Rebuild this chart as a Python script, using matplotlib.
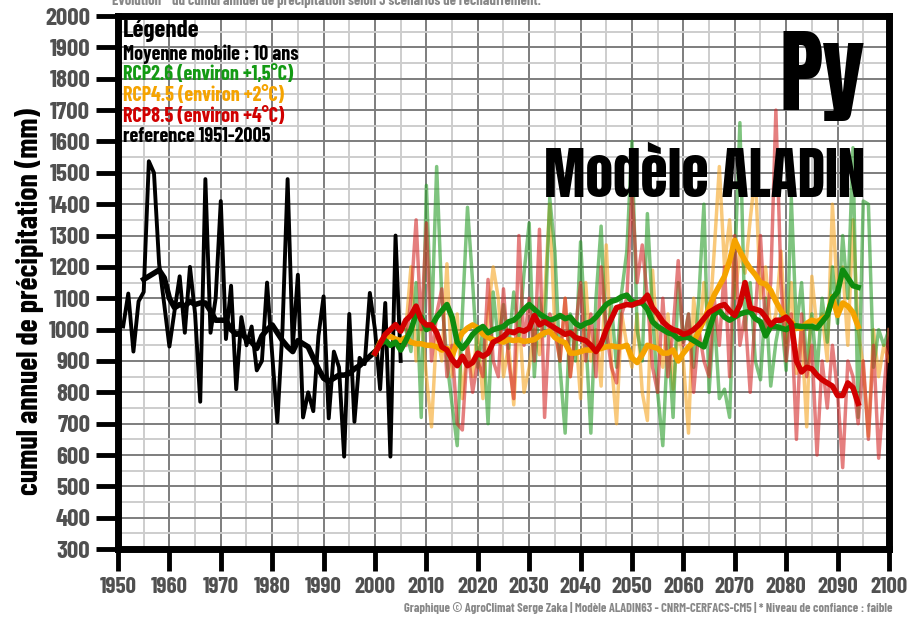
import matplotlib
matplotlib.use("Agg")
import matplotlib.pyplot as plt
import numpy as np
from matplotlib.ticker import MultipleLocator

plt.rcParams['font.family'] = ['Barlow Condensed', 'DejaVu Sans']
plt.rcParams['font.weight'] = 'bold'
BIG = ['Anton', 'DejaVu Sans']

# reference 1951-2005 (annual) and its 10-year moving average
ref_years = np.arange(1951, 2006)
ref_values = [1010, 1115, 930, 1090, 1120, 1537, 1500, 1210, 1080, 946,
              1060, 1170, 990, 1200, 1050, 770, 1480, 990, 1100, 1410,
              970, 1140, 810, 1040, 950, 1010, 870, 900, 1150, 920,
              705, 1000, 1480, 945, 1175, 720, 800, 740, 980, 1106,
              717, 930, 880, 595, 1050, 706, 910, 890, 1117, 1000,
              810, 1085, 595, 1300, 900]
ref_ma_years = np.arange(1955, 2001)
ref_ma = [1160, 1170, 1180, 1190, 1165, 1100, 1070, 1080, 1075, 1090,
          1080, 1085, 1085, 1060, 1030, 1030, 1030, 1000, 985, 990,
          970, 960, 940, 980, 1000, 1015, 990, 965, 945, 930,
          965, 955, 945, 910, 875, 845, 835, 845, 855, 855,
          860, 875, 885, 900, 915, 930]

# scenarios, annual values 2006-2100
scen_years = np.arange(2006, 2101)
rcp26 = [1000, 930, 1150, 720, 1460,
         1000, 1520, 1100, 900, 760, 630, 1050, 1390, 1150, 880,
         1000, 700, 1120, 960, 1080, 940, 1120, 980, 1180, 1340,
         850, 1100, 980, 1420, 1250, 880, 670, 1050, 900, 1280,
         980, 670, 1100, 1330, 950, 1080, 880, 1120, 1250, 1600,
         1000, 900, 1370, 1050, 800, 630, 980, 720, 1150, 960,
         1050, 880, 1100, 1400, 800, 1050, 780, 810, 720, 1200,
         1660, 1000, 1150, 900, 840, 1100, 820, 960, 1050, 870,
         1420, 1000, 1150, 880, 1050, 860, 1100, 960, 1200, 1020,
         1300, 1100, 1580, 720, 1410, 1400, 880, 1000, 950, 1000]
rcp45 = [1000, 1200, 900, 1050, 850,
         690, 1000, 900, 1210, 850, 1050, 780, 950, 850, 1000,
         780, 1050, 1200, 1100, 850, 950, 760, 1050, 800, 880,
         1000, 920, 1100, 1400, 1000, 900, 1100, 850, 1000, 780,
         1150, 900, 1000, 820, 1270, 900, 700, 1050, 950, 880,
         1050, 800, 710, 1190, 950, 880, 1050, 810, 1000, 900,
         670, 1100, 950, 1150, 1000, 1250, 1520, 1200, 1350, 1100,
         1250, 1180, 1350, 1500, 1100, 1200, 1000, 1050, 1250, 950,
         1150, 860, 1000, 690, 1170, 1000, 1050, 900, 1400, 1100,
         1200, 950, 1350, 1000, 880, 660, 1000, 850, 950, 900]
rcp85 = [950, 1100, 1350, 1000, 1340,
         900, 1050, 1130, 850, 950, 700, 680, 950, 800, 900,
         850, 1160, 900, 850, 1130, 900, 780, 1300, 950, 1100,
         900, 1320, 720, 1050, 1000, 900, 1100, 850, 1000, 1150,
         900, 1050, 850, 1200, 1000, 880, 830, 1050, 1100, 1450,
         1150, 1270, 1100, 880, 800, 1100, 850, 1000, 1220, 950,
         1050, 800, 1000, 900, 850, 1100, 950, 1200, 850, 1300,
         950, 1050, 800, 1050, 1300, 1000, 1150, 1700, 1150, 900,
         1050, 650, 1050, 850, 950, 600, 900, 750, 950, 800,
         560, 900, 850, 700, 900, 650, 950, 590, 800, 1000]

# 10-year moving averages 2000-2094
ma_years = np.arange(2000, 2095)
rcp26_ma = [925, 955, 965, 950, 960, 935, 965, 1000, 1050, 1040,
            1000, 1010, 1040, 1060, 1080, 1040, 960, 940, 960, 985,
            1000, 1010, 990, 1000, 1005, 1010, 1025, 1030, 1045, 1065,
            1080, 1065, 1050, 1040, 1030, 1035, 1045, 1035, 1040, 1020,
            1010, 1020, 1025, 1040, 1060, 1080, 1090, 1095, 1105, 1110,
            1090, 1085, 1085, 1065, 1025, 1010, 1000, 990, 985, 970,
            975, 975, 965, 955, 945, 1000, 1050, 1060, 1040, 1030,
            1040, 1050, 1055, 1058, 1035, 1025, 980, 1010, 1010, 1005,
            1000, 1010, 1012, 1010, 1010, 1010, 1005, 1025, 1045, 1100,
            1120, 1190, 1165, 1140, 1135]
rcp45_ma = [925, 960, 975, 978, 970, 965, 975, 960, 955, 955,
            950, 950, 945, 935, 940, 915, 960, 990, 1005, 1015,
            1005, 985, 975, 968, 965, 960, 968, 965, 968, 962,
            965, 968, 980, 990, 995, 975, 965, 958, 925, 925,
            930, 935, 935, 936, 940, 945, 948, 945, 945, 950,
            910, 895, 920, 950, 945, 940, 925, 925, 935, 900,
            925, 945, 960, 995, 1030, 1070, 1110, 1140, 1170, 1220,
            1285, 1250, 1220, 1195, 1175, 1150, 1145, 1125, 1090, 1060,
            1035, 1025, 1005, 1005, 1020, 1030, 1025, 1035, 1045, 1105,
            1045, 1085, 1075, 1055, 1010]
rcp85_ma = [925, 955, 985, 1000, 1016, 995, 1030, 1045, 1075, 1030,
            1015, 1015, 990, 945, 935, 905, 885, 915, 885, 895,
            925, 915, 925, 960, 968, 978, 995, 990, 1000, 995,
            1005, 1045, 1015, 1025, 1015, 1005, 995, 985, 990, 975,
            970, 965, 950, 930, 955, 1000, 1035, 1070, 1075, 1080,
            1078, 1085, 1090, 1110, 1070, 1050, 1025, 1010, 1000, 995,
            985, 990, 1000, 1015, 1035, 1055, 1065, 1075, 1080, 1060,
            1045, 1080, 1150, 1070, 1065, 1060, 1040, 1015, 1030, 1030,
            1040, 1020, 900, 865, 880, 875, 855, 840, 830, 820,
            790, 790, 830, 815, 765]

legend_lines = [('Moyenne mobile : 10 ans', 'black'),
                ('RCP2.6 (environ +1,5°C)', '#139a13'),
                ('RCP4.5 (environ +2°C)', '#f5a300'),
                ('RCP8.5 (environ +4°C)', '#d10000'),
                ('reference 1951-2005', 'black')]

fig = plt.figure(figsize=(9.07, 6.17), dpi=100)
ax = fig.add_axes([0.1301, 0.110, 0.8500, 0.864])

ax.plot(scen_years, rcp45, color='#f5a623', alpha=0.6, lw=2.5, zorder=3)
ax.plot(scen_years, rcp26, color='#2a9d2a', alpha=0.6, lw=2.5, zorder=3)
ax.plot(scen_years, rcp85, color='#d42a2a', alpha=0.6, lw=2.5, zorder=3)
ax.plot(ref_years, ref_values, color='black', lw=2.8, zorder=4)
ax.plot(ref_ma_years, ref_ma, color='black', lw=4.0, zorder=4)
ax.plot(ma_years, rcp45_ma, color='#f5a300', lw=4.0, zorder=5)
ax.plot(ma_years, rcp26_ma, color='#0f8c0f', lw=4.0, zorder=5)
ax.plot(ma_years, rcp85_ma, color='#d10000', lw=4.0, zorder=6)

ax.set_xlim(1950, 2100)
ax.set_ylim(300, 2000)
ax.xaxis.set_major_locator(MultipleLocator(10))
ax.xaxis.set_minor_locator(MultipleLocator(5))
ax.yaxis.set_major_locator(MultipleLocator(100))
ax.yaxis.set_minor_locator(MultipleLocator(50))
ax.grid(which='major', color='#7d7d7d', lw=1.4)
ax.grid(which='minor', color='#cdcdcd', lw=1.4)
ax.set_axisbelow(True)
for s in ax.spines.values():
    s.set_linewidth(5)
    s.set_color('black')
ax.tick_params(which='major', length=16, width=3.5, color='black',
               labelsize=18, labelcolor='#505050', pad=4)
ax.tick_params(axis='x', which='major', labelsize=16.5)
ax.tick_params(which='minor', length=0)

fig.text(30 / 907, 1 - 302 / 617, 'cumul annuel de précipitation (mm)', rotation=90,
         ha='center', va='center', fontsize=21.5, color='black')

fig.text(123 / 907, 1 - 37 / 617, 'Légende', fontsize=18, va='baseline')
for i, (txt, col) in enumerate(legend_lines):
    fig.text(123 / 907, 1 - (60 + 20.5 * i) / 617, txt, fontsize=14.5, color=col, va='baseline')

fig.text(865 / 907, 1 - 110 / 617, 'Py', fontsize=66, ha='right', va='baseline', family=BIG,
         weight='normal')
fig.text(865 / 907, 1 - 197 / 617, 'Modèle ALADIN', fontsize=40, ha='right', va='baseline',
         family=BIG, weight='normal')

fig.text(112 / 907, 1 - 5 / 617,
         'Evolution * du cumul annuel de précipitation selon 3 scénarios de réchauffement.',
         fontsize=10.5, color='#888888', va='baseline')
fig.text(893 / 907, 1 - 612 / 617,
         'Graphique © AgroClimat Serge Zaka | Modèle ALADIN63 - CNRM-CERFACS-CM5 | * Niveau de confiance : faible',
         fontsize=9, color='#888888', ha='right', va='baseline')

fig.savefig('out.png', dpi=100)
